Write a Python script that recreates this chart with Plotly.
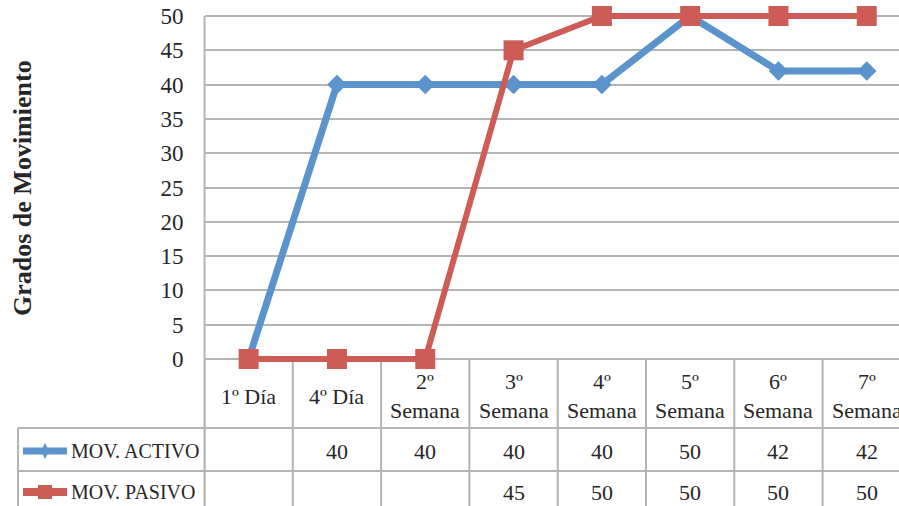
import plotly.graph_objects as go

# ---- data ----
categories = ["1º Día", "4º Día", "2º Semana", "3º Semana", "4º Semana",
              "5º Semana", "6º Semana", "7º Semana"]
header_labels = ["1º Día", "4º Día", "2º<br>Semana", "3º<br>Semana", "4º<br>Semana",
                 "5º<br>Semana", "6º<br>Semana", "7º<br>Semana"]
activo = [None, 40, 40, 40, 40, 50, 42, 42]
pasivo = [None, None, None, 45, 50, 50, 50, 50]
series_names = ["MOV. ACTIVO", "MOV. PASIVO"]
y_ticks = list(range(0, 51, 5))

W, H = 899, 506
BLUE = "#5B93CC"
RED = "#CD5C57"
GRID = "#B4B4B4"
TXT = "#262626"
FONT = "Liberation Serif"

# pixel -> paper helpers
def px(x):
    return x / W

def py(y):
    return 1 - y / H

plot_left, plot_top, plot_bottom = 204.5, 16, 359
col_w = 88.3
x_max = -0.5 + (W - plot_left) / col_w

# pad the y domain so thick lines at 0 and 50 are not clipped,
# while keeping 0 and 50 on the same pixel rows
pad_px = 12
units_per_px = 50 / (plot_bottom - plot_top)
y_lo = -pad_px * units_per_px
y_hi = 50 + pad_px * units_per_px

xs = list(range(len(categories)))
as_plotted = lambda vals: [0 if v is None else v for v in vals]

fig = go.Figure()
fig.add_trace(go.Scatter(
    x=xs, y=as_plotted(activo), mode="lines+markers", name=series_names[0],
    line=dict(color=BLUE, width=7),
    marker=dict(symbol="diamond", size=15, color=BLUE),
    cliponaxis=False, showlegend=False))
fig.add_trace(go.Scatter(
    x=xs, y=as_plotted(pasivo), mode="lines+markers", name=series_names[1],
    line=dict(color=RED, width=6),
    marker=dict(symbol="square", size=20, color=RED),
    cliponaxis=False, showlegend=False))

shapes = []
annotations = []

# left border of plot area and table
shapes.append(dict(type="line", xref="paper", yref="paper",
                   x0=px(plot_left), x1=px(plot_left), y0=py(plot_top), y1=py(H + 2),
                   line=dict(color=GRID, width=2), layer="below"))

# data table grid
row1_top, row2_top = 428, 471
for k in range(len(categories) + 1):
    shapes.append(dict(type="line", xref="x", yref="paper",
                       x0=k - 0.5, x1=k - 0.5, y0=py(plot_bottom), y1=py(H + 2),
                       line=dict(color=GRID, width=2), layer="below"))
for yy in (row1_top, row2_top):
    shapes.append(dict(type="line", xref="paper", yref="paper",
                       x0=px(18), x1=1, y0=py(yy), y1=py(yy),
                       line=dict(color=GRID, width=2), layer="below"))
shapes.append(dict(type="line", xref="paper", yref="paper",
                   x0=px(18), x1=px(18), y0=py(row1_top), y1=py(H + 2),
                   line=dict(color=GRID, width=2), layer="below"))

# category header labels
for i, lab in enumerate(header_labels):
    annotations.append(dict(x=i, xref="x", y=py(396), yref="paper", text=lab,
                            showarrow=False, xanchor="center", yanchor="middle",
                            align="center", font=dict(family=FONT, size=22, color=TXT)))

# table rows: legend key + values
row_centers = [451, 492]
for r, (name, vals, color) in enumerate(zip(series_names, [activo, pasivo], [BLUE, RED])):
    yc = row_centers[r]
    shapes.append(dict(type="line", xref="paper", yref="paper",
                       x0=px(23), x1=px(67), y0=py(yc), y1=py(yc),
                       line=dict(color=color, width=7 if r == 0 else 8)))
    if r == 0:
        shapes.append(dict(type="path", xref="paper", yref="paper",
                           path=(f"M {px(45)},{py(yc - 8)} L {px(49)},{py(yc)} "
                                 f"L {px(45)},{py(yc + 8)} L {px(41)},{py(yc)} Z"),
                           fillcolor=color, line=dict(width=0)))
    else:
        shapes.append(dict(type="rect", xref="paper", yref="paper",
                           x0=px(38), x1=px(52), y0=py(yc - 7), y1=py(yc + 7),
                           fillcolor=color, line=dict(width=0)))
    annotations.append(dict(x=px(69), xref="paper", y=py(yc), yref="paper", text=name,
                            showarrow=False, xanchor="left", yanchor="middle",
                            font=dict(family=FONT, size=20, color=TXT)))
    for i, v in enumerate(vals):
        annotations.append(dict(x=i, xref="x", y=py(yc), yref="paper",
                                text="" if v is None else str(v),
                                showarrow=False, xanchor="center", yanchor="middle",
                                font=dict(family=FONT, size=22, color=TXT)))

# y-axis title
annotations.append(dict(x=px(22), xref="paper", y=py(188), yref="paper",
                        text="<b>Grados de Movimiento</b>", textangle=-90,
                        showarrow=False, xanchor="center", yanchor="middle",
                        font=dict(family=FONT, size=26, color=TXT)))

fig.update_layout(
    width=W, height=H,
    margin=dict(l=0, r=0, t=0, b=0, autoexpand=False),
    paper_bgcolor="white", plot_bgcolor="white",
    xaxis=dict(domain=[px(plot_left), 1], range=[-0.5, x_max], automargin=False,
               showgrid=False, zeroline=False, showticklabels=False, showline=False),
    yaxis=dict(domain=[py(plot_bottom + pad_px), py(plot_top - pad_px)],
               range=[y_lo, y_hi], automargin=False,
               tickvals=y_ticks, ticktext=[str(t) for t in y_ticks],
               showgrid=True, gridcolor=GRID, gridwidth=2,
               zeroline=False, showline=False,
               ticks="", ticklabelstandoff=20,
               tickfont=dict(family=FONT, size=23, color=TXT)),
    shapes=shapes,
    annotations=annotations,
)

fig.write_html("out.html")
